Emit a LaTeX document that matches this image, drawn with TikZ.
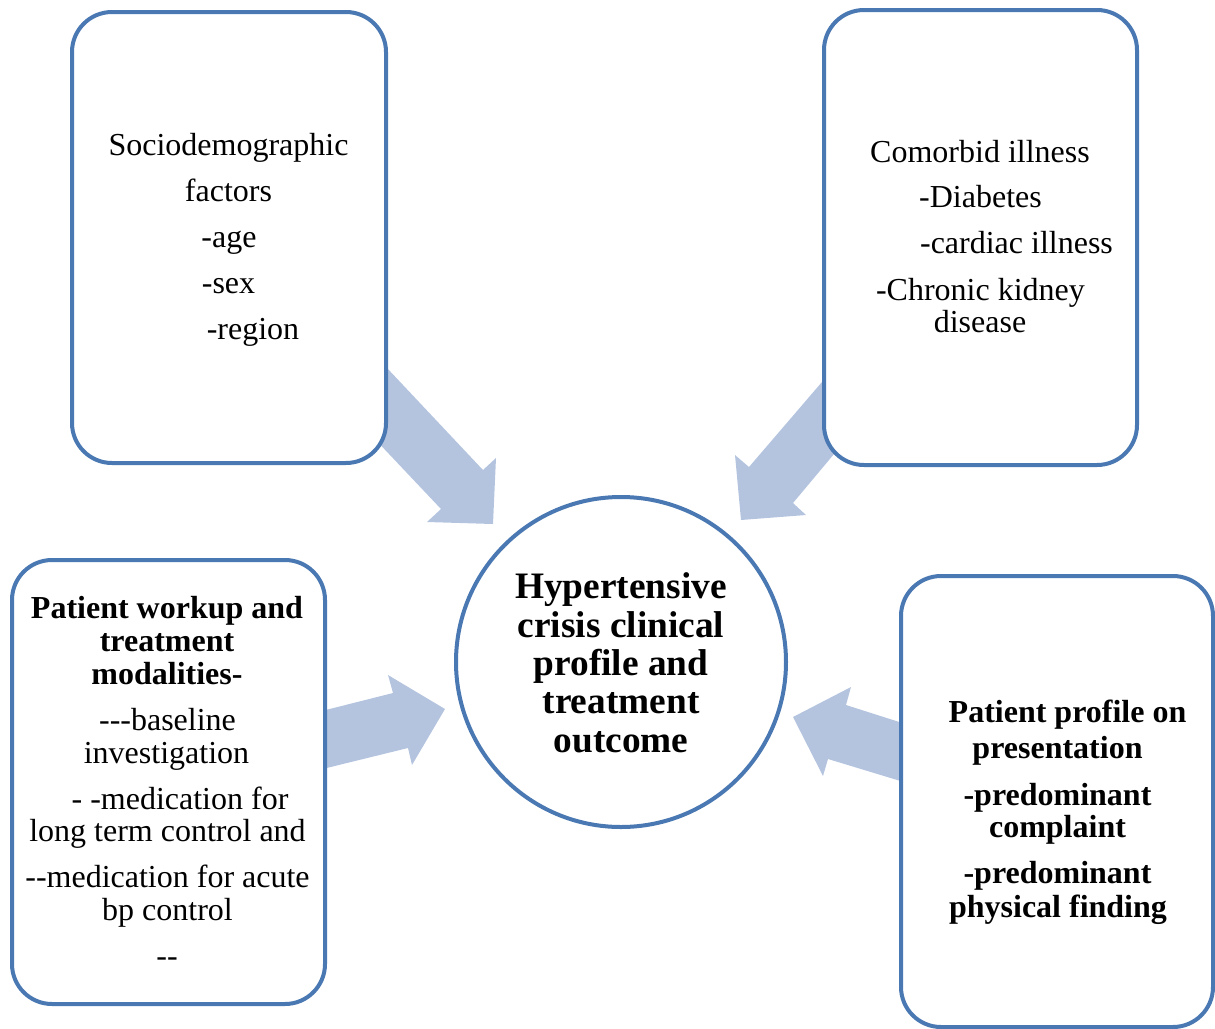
\documentclass[tikz,border=0pt]{standalone}
\usepackage{fontspec}
\setmainfont[Ligatures=TeXOff]{Liberation Serif}
\definecolor{boxblue}{RGB}{74,120,178}
\definecolor{arrowblue}{RGB}{180,196,223}
\tikzset{every picture/.style={line width=0.75pt}}
\tikzset{
  infobox/.style={draw=boxblue, line width=3pt, fill=white, rounded corners=30pt, inner sep=0pt},
  hubcircle/.style={circle, draw=boxblue, line width=3pt, fill=white, inner sep=0pt, minimum size=247.5pt},
  blockarrow/.style={fill=arrowblue, draw=none},
  boxtext/.style={anchor=base, inner sep=0pt, font=\fontsize{24}{29}\selectfont},
  boldtext/.style={boxtext, font=\fontsize{24}{29}\selectfont\bfseries},
  hubtext/.style={anchor=base, inner sep=0pt, font=\fontsize{28}{33}\selectfont\bfseries}
}

\begin{document}
\begin{tikzpicture}[x=0.75pt,y=0.75pt,yscale=-1,xscale=1]
\useasboundingbox (0,0) rectangle (1215,1029);

%Shape: Block Arrow [id:sociodemographic to hub]
\fill [blockarrow] (339,317) -- (483,470) -- (496,458) -- (493,524) -- (427,522) -- (441,509) -- (337,399) -- cycle ;
%Shape: Block Arrow [id:comorbid to hub]
\fill [blockarrow] (852,347) -- (749,467) -- (735,455) -- (741,520) -- (806,515) -- (793,503) -- (860,423) -- cycle ;
%Shape: Block Arrow [id:workup to hub]
\fill [blockarrow] (290,719) -- (393,693) -- (388,675) -- (445,709) -- (412,765) -- (408,748) -- (290,777) -- cycle ;
%Shape: Block Arrow [id:presentation to hub]
\fill [blockarrow] (940,735) -- (846,705) -- (851,687) -- (793,717) -- (823,776) -- (828,759) -- (940,793) -- cycle ;

%Shape: Rounded Rect [id:socbox]
\node (socbox) [infobox, minimum width=235.5pt, minimum height=338.25pt] at (229,237.5) {};
%Shape: Rounded Rect [id:comobox]
\node (comobox) [infobox, minimum width=234.75pt, minimum height=341.25pt] at (980.5,237.5) {};
%Shape: Rounded Rect [id:workbox]
\node (workbox) [infobox, minimum width=234.75pt, minimum height=333pt] at (168.5,782) {};
%Shape: Rounded Rect [id:presbox]
\node (presbox) [infobox, minimum width=234pt, minimum height=338.25pt] at (1057,801.5) {};
%Shape: Circle [id:hub]
\node (hub) [hubcircle] at (621,662) {};

% Text Node
\node (soc1) [boxtext] at (228.5,155) {Sociodemographic};
% Text Node
\node (soc2) [boxtext] at (228.5,201) {factors};
% Text Node
\node (soc3) [boxtext] at (229,247) {-age};
% Text Node
\node (soc4) [boxtext] at (228.5,293) {-sex};
% Text Node
\node (soc5) [boxtext] at (253,339) {-region};

% Text Node
\node (como1) [boxtext] at (980,162) {Comorbid illness};
% Text Node
\node (como2) [boxtext] at (980.5,207) {-Diabetes};
% Text Node
\node (como3) [boxtext] at (1016.5,253) {-cardiac illness};
% Text Node
\node (como4) [boxtext] at (980.5,300) {-Chronic kidney};
% Text Node
\node (como5) [boxtext] at (980,332) {disease};

% Text Node
\node (hub1) [hubtext] at (621,598) {Hypertensive};
% Text Node
\node (hub2) [hubtext] at (621,637) {crisis clinical};
% Text Node
\node (hub3) [hubtext] at (621,675) {profile and};
% Text Node
\node (hub4) [hubtext] at (621,713) {treatment};
% Text Node
\node (hub5) [hubtext] at (621,752) {outcome};

% Text Node
\node (work1) [boldtext] at (167,618) {Patient workup and};
% Text Node
\node (work2) [boldtext] at (167,651) {treatment};
% Text Node
\node (work3) [boldtext] at (167,684) {modalities-};
% Text Node
\node (work4) [boxtext] at (167.5,730) {---baseline};
% Text Node
\node (work5) [boxtext] at (166.5,763) {investigation};
% Text Node
\node (work6) [boxtext] at (180,809) {- -medication for};
% Text Node
\node (work7) [boxtext] at (167.5,841) {long term control and};
% Text Node
\node (work8) [boxtext] at (167.5,887) {--medication for acute};
% Text Node
\node (work9) [boxtext] at (167.5,920) {bp control};
% Text Node
\node (work10) [boxtext] at (167,966) {--};

% Text Node
\node (pres1) [boldtext] at (1067.5,722) {Patient profile on};
% Text Node
\node (pres2) [boldtext] at (1057.5,758) {presentation};
% Text Node
\node (pres3) [boldtext] at (1057.5,805) {-predominant};
% Text Node
\node (pres4) [boldtext] at (1057.5,837) {complaint};
% Text Node
\node (pres5) [boldtext] at (1057.5,883) {-predominant};
% Text Node
\node (pres6) [boldtext] at (1058,917) {physical finding};

\end{tikzpicture}
\end{document}
